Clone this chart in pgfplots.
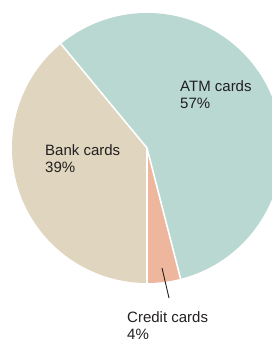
\documentclass[border=0pt]{standalone}
\usepackage{pgfplots}
\usepackage{pgfplotstable}
\pgfplotsset{compat=1.18}
\usepackage{fontspec}
\setmainfont{Liberation Sans}
\definecolor{atm}{HTML}{B9D8D1}
\definecolor{bank}{HTML}{E0D6BF}
\definecolor{credit}{HTML}{EFB69E}
\definecolor{txt}{HTML}{231F20}
\pgfplotstableread{
label value
Credit 4
ATM 57
Bank 39
}\piedata
\pgfplotstablegetelem{0}{value}\of\piedata\let\vCredit\pgfplotsretval
\pgfplotstablegetelem{1}{value}\of\piedata\let\vATM\pgfplotsretval
\pgfplotstablegetelem{2}{value}\of\piedata\let\vBank\pgfplotsretval
\pgfmathsetmacro\aZero{270}
\pgfmathsetmacro\aOne{\aZero+3.6*\vCredit}
\pgfmathsetmacro\aTwo{\aOne+3.6*\vATM}
\pgfmathsetmacro\aThree{\aTwo+3.6*\vBank}
\begin{document}%
\begin{tikzpicture}
\begin{axis}[x=1pt,y=1pt,xmin=-147,xmax=125,ymin=-194,ymax=148,
  hide axis, clip=true, clip bounding box=upper bound]
\fill[credit] (axis cs:0,0) -- ++(\aZero:135pt) arc[start angle=\aZero,end angle=\aOne,radius=135pt] -- cycle;
\fill[atm] (axis cs:0,0) -- ++(\aOne:135pt) arc[start angle=\aOne,end angle=\aTwo,radius=135pt] -- cycle;
\fill[bank] (axis cs:0,0) -- ++(\aTwo:135pt) arc[start angle=\aTwo,end angle=\aThree,radius=135pt] -- cycle;
\draw[white,line width=1.6pt] (axis cs:0,0) -- ++(\aZero:136pt);
\draw[white,line width=1.6pt] (axis cs:0,0) -- ++(\aOne:136pt);
\draw[white,line width=1.6pt] (axis cs:0,0) -- ++(\aTwo:136pt);
\draw[txt,line width=0.9pt] (axis cs:15,-120) -- (axis cs:22,-150);
\node[anchor=base west,align=left,inner sep=0pt,text=txt,font=\fontsize{15}{17}\selectfont] at (axis cs:33,39) {ATM cards\\57\%};
\node[anchor=base west,align=left,inner sep=0pt,text=txt,font=\fontsize{15}{17}\selectfont] at (axis cs:-102,-25) {Bank cards\\39\%};
\node[anchor=base west,align=left,inner sep=0pt,text=txt,font=\fontsize{15}{17}\selectfont] at (axis cs:-20,-192) {Credit cards\\4\%};
\end{axis}
\pgfresetboundingbox
\path (current axis.south west) rectangle (current axis.north east);
\end{tikzpicture}%
\end{document}
